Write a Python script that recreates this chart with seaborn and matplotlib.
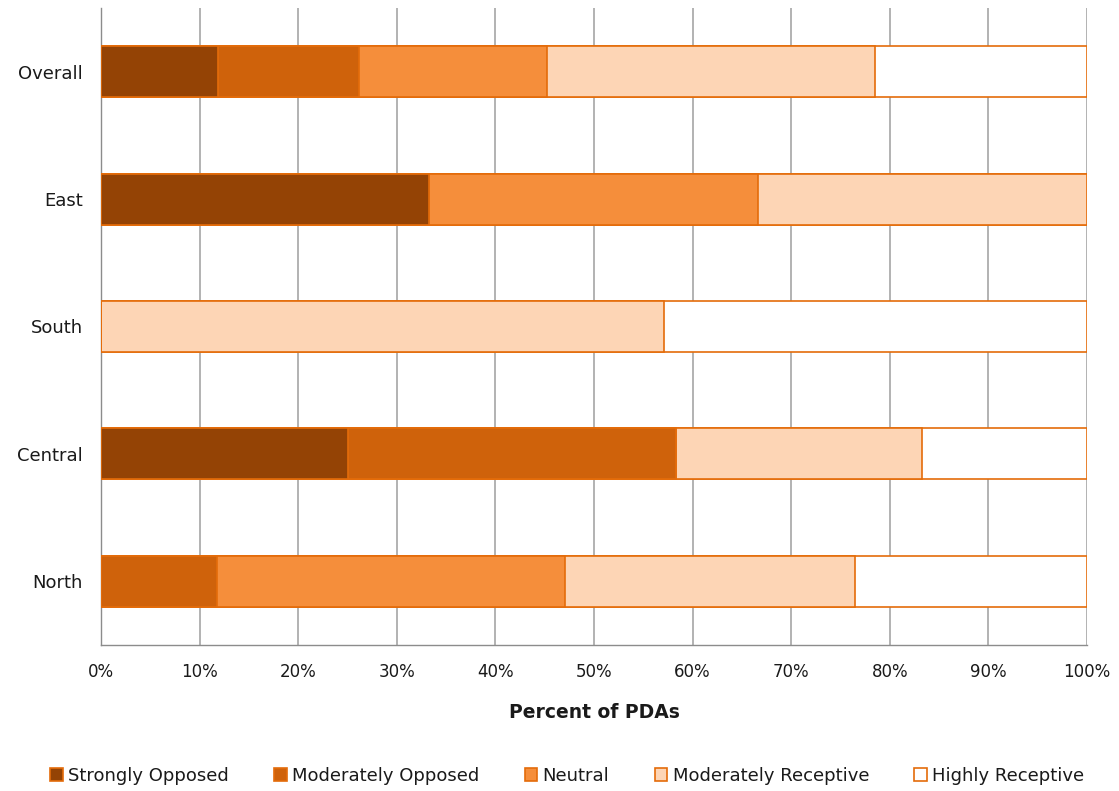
import numpy as np
import pandas as pd
import matplotlib
matplotlib.use("Agg")
import matplotlib.pyplot as plt
import seaborn as sns
from matplotlib.patches import Patch
from matplotlib.ticker import FixedLocator, PercentFormatter

# Data (percent of PDAs per region)
regions = ["Overall", "East", "South", "Central", "North"]
categories = ["Strongly Opposed", "Moderately Opposed", "Neutral",
              "Moderately Receptive", "Highly Receptive"]
strongly_opposed = [11.9, 33.3, 0.0, 25.0, 0.0]
moderately_opposed = [14.3, 0.0, 0.0, 33.3, 11.8]
neutral = [19.0, 33.3, 0.0, 0.0, 35.3]
moderately_receptive = [33.3, 33.4, 57.1, 25.0, 29.4]
highly_receptive = [21.5, 0.0, 42.9, 16.7, 23.5]

colors = ["#944305", "#CF620B", "#F58E3B", "#FDD5B5", "#FFFFFF"]
edge = "#E46C0A"

sns.set_theme(style="white")
plt.rcParams["font.family"] = ["DejaVu Sans"]

df = pd.DataFrame({
    "region": regions,
    "Strongly Opposed": strongly_opposed,
    "Moderately Opposed": moderately_opposed,
    "Neutral": neutral,
    "Moderately Receptive": moderately_receptive,
    "Highly Receptive": highly_receptive,
})
# cumulative ends for stacking
cum = df[categories].cumsum(axis=1)

fig = plt.figure(figsize=(11.19, 7.91), dpi=100)
ax = fig.add_axes([0.0903, 0.1846, 0.8811, 0.8053])

# draw the longest (cumulative) layer first, shorter on top
for cat, col in reversed(list(zip(categories, colors))):
    sns.barplot(x=cum[cat], y=df["region"], orient="h", color=col,
                edgecolor=edge, linewidth=1.2, width=0.4, saturation=1,
                ax=ax, zorder=3)

ax.set_xlim(0, 100)
ax.set_ylim(4.5, -0.5)
ax.xaxis.set_major_locator(FixedLocator(np.arange(0, 101, 10)))
ax.xaxis.set_major_formatter(PercentFormatter(decimals=0))
ax.grid(axis="x", color="#A6A6A6", linewidth=1.2, zorder=0)
ax.set_axisbelow(True)

for s in ["top", "right"]:
    ax.spines[s].set_visible(False)
for s in ["left", "bottom"]:
    ax.spines[s].set_color("#8C8C8C")
    ax.spines[s].set_linewidth(1.0)

ax.tick_params(axis="x", which="major", length=7, color="#8C8C8C", width=1,
               direction="out", labelsize=12, labelcolor="#1A1A1A", pad=6)
ax.tick_params(axis="y", which="major", length=0, labelsize=13,
               labelcolor="#1A1A1A", pad=13)
ax.yaxis.set_minor_locator(FixedLocator(np.arange(-0.5, 5.0, 1.0)))
ax.tick_params(axis="y", which="minor", length=7, color="#8C8C8C", width=1,
               direction="out")

ax.set_ylabel("")
ax.set_xlabel("Percent of PDAs", fontsize=13.5, fontweight="bold",
              color="#1A1A1A", labelpad=16)

handles = [Patch(facecolor=c, edgecolor=edge, linewidth=1.2) for c in colors]
fig.legend(handles, categories, loc="center", ncol=5,
           bbox_to_anchor=(0.507, 0.019), frameon=False, fontsize=13,
           handlelength=0.7, handleheight=0.7, handletextpad=0.3,
           columnspacing=2.5, labelcolor="#1A1A1A")

fig.savefig("out.png", dpi=100)
